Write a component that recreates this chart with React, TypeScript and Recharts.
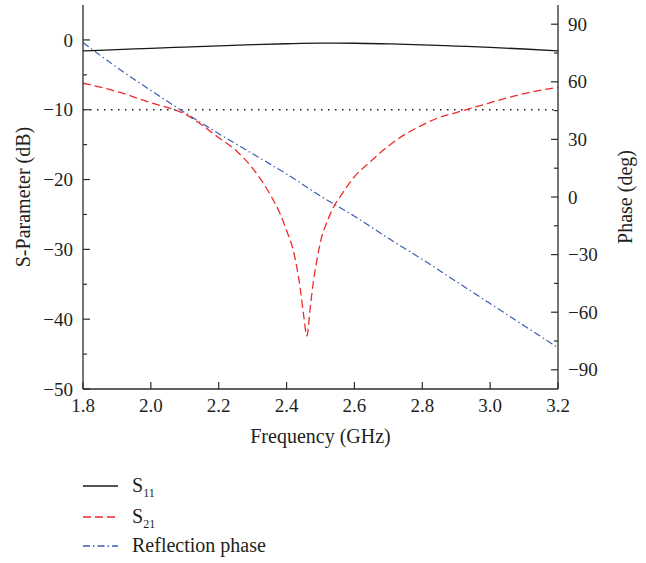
import React from "react";
import { LineChart, Line, XAxis, YAxis, ReferenceLine, Label } from "recharts";

const FONT = "'Liberation Serif', 'Times New Roman', serif";
const AXIS = "#2b2b2b";
const TEXT = "#231f20";

// S11 and reflection phase sampled every 0.1 GHz
const coarseFreq = [1.8, 1.9, 2.0, 2.1, 2.2, 2.3, 2.4, 2.5, 2.6, 2.7, 2.8, 2.9, 3.0, 3.1, 3.2];
const s11Db = [-1.57, -1.4, -1.2, -1.02, -0.85, -0.68, -0.55, -0.47, -0.48, -0.57, -0.7, -0.88, -1.07, -1.3, -1.57];
const phaseDeg = [80.5, 67.5, 55.5, 44, 33, 22.5, 12, 0.5, -10, -21.5, -32.5, -44, -55.5, -67, -78.5];

// S21 needs denser points around the notch
const s21Freq = [
  1.8, 1.9, 2.0, 2.1, 2.2, 2.25, 2.3, 2.35, 2.38, 2.4, 2.42, 2.44, 2.45, 2.46, 2.47, 2.48, 2.49, 2.5,
  2.52, 2.54, 2.56, 2.6, 2.65, 2.7, 2.75, 2.8, 2.85, 2.9, 2.95, 3.0, 3.05, 3.1, 3.15, 3.2,
];
const s21Db = [
  -6.2, -7.4, -9.0, -10.6, -14.0, -15.8, -18.4, -22.0, -24.8, -27.3, -30.2, -35.5, -39.3, -42.4, -38.2, -34.3, -31.4, -28.9,
  -26.0, -23.8, -22.3, -19.6, -17.3, -15.2, -13.5, -12.2, -11.1, -10.4, -9.7, -9.0, -8.3, -7.7, -7.2, -6.8,
];

const freqTicks = [1.8, 2.0, 2.2, 2.4, 2.6, 2.8, 3.0, 3.2];
const dbTicks = [-50, -45, -40, -35, -30, -25, -20, -15, -10, -5, 0];
const phaseTicks = [-90, -75, -60, -45, -30, -15, 0, 15, 30, 45, 60, 75, 90];
const thresholdDb = -10;

const legendItems = [
  { name: "S", sub: "11" },
  { name: "S", sub: "21" },
  { name: "Reflection phase", sub: "" },
];

const s11Data = coarseFreq.map((f, i) => ({ f, s11: s11Db[i], phase: phaseDeg[i] }));
const s21Data = s21Freq.map((f, i) => ({ f, s21: s21Db[i] }));

const fmt = (v: number) => (v < 0 ? "\u2212" + Math.abs(v) : String(v));

const TICK_GAP = 10;

function LeftTick(props: any) {
  const { x, y, payload } = props;
  const v = payload.value;
  const major = v % 10 === 0;
  const ax = x + TICK_GAP;
  return (
    <g>
      <line x1={ax} x2={ax + (major ? 7 : 4)} y1={y} y2={y} stroke={AXIS} strokeWidth={1.2} />
      {major && (
        <text x={x} y={y} dy="0.35em" textAnchor="end" fontFamily={FONT} fontSize={19} fill={TEXT}>
          {fmt(v)}
        </text>
      )}
    </g>
  );
}

function RightTick(props: any) {
  const { x, y, payload } = props;
  const v = payload.value;
  const major = v % 30 === 0;
  const ax = x - TICK_GAP;
  return (
    <g>
      <line x1={ax} x2={ax - (major ? 7 : 4)} y1={y} y2={y} stroke={AXIS} strokeWidth={1.2} />
      {major && (
        <text x={x} y={y} dy="0.35em" textAnchor="start" fontFamily={FONT} fontSize={19} fill={TEXT}>
          {fmt(v)}
        </text>
      )}
    </g>
  );
}

function BottomTick(props: any) {
  const { x, y, payload } = props;
  const ay = y - TICK_GAP;
  return (
    <g>
      <line x1={x} x2={x} y1={ay} y2={ay - 7} stroke={AXIS} strokeWidth={1.2} />
      <text x={x} y={y} dy="0.71em" textAnchor="middle" fontFamily={FONT} fontSize={19} fill={TEXT}>
        {payload.value.toFixed(1)}
      </text>
    </g>
  );
}

function Legend() {
  const rows = [492, 523, 552];
  const styles = [
    { stroke: "#1a1a1a", dash: undefined },
    { stroke: "#ee2a2a", dash: "8 4" },
    { stroke: "#3b5bb5", dash: "7 3 1.5 3" },
  ];
  return (
    <svg width={646} height={563} style={{ position: "absolute", left: 0, top: 0, pointerEvents: "none" }}>
      {legendItems.map((item, i) => (
        <g key={i}>
          <line
            x1={83}
            x2={118}
            y1={rows[i] - 6}
            y2={rows[i] - 6}
            stroke={styles[i].stroke}
            strokeDasharray={styles[i].dash}
            strokeWidth={1.3}
          />
          <text x={132} y={rows[i]} fontFamily={FONT} fontSize={20} fill={TEXT}>
            {item.name}
            {item.sub && (
              <tspan fontSize={12} dy={5}>
                {item.sub}
              </tspan>
            )}
          </text>
        </g>
      ))}
    </svg>
  );
}

export default function App() {
  return (
    <div style={{ position: "absolute", left: 0, top: 0, width: 646, height: 563, background: "#fff" }}>
      <LineChart width={646} height={563} margin={{ top: 5, right: 0, bottom: 114, left: 0 }}>
        <XAxis
          xAxisId="x"
          dataKey="f"
          type="number"
          domain={[1.8, 3.2]}
          ticks={freqTicks}
          interval={0}
          allowDataOverflow
          height={60}
          tickSize={0}
          tickMargin={TICK_GAP}
          tickLine={false}
          tick={<BottomTick />}
          axisLine={{ stroke: AXIS, strokeWidth: 1.3 }}
        >
          <Label
            content={({ viewBox }: any) => (
              <text
                x={viewBox.x + viewBox.width / 2}
                y={443}
                textAnchor="middle"
                fontFamily={FONT}
                fontSize={20}
                fill={TEXT}
              >
                Frequency (GHz)
              </text>
            )}
          />
        </XAxis>
        <XAxis
          xAxisId="top"
          orientation="top"
          type="number"
          domain={[1.8, 3.2]}
          height={0}
          tick={false}
          tickLine={false}
          axisLine={{ stroke: AXIS, strokeWidth: 1.3 }}
        />
        <YAxis
          yAxisId="db"
          orientation="left"
          type="number"
          domain={[-50, 5]}
          ticks={dbTicks}
          interval={0}
          allowDataOverflow
          width={83}
          tickSize={0}
          tickMargin={TICK_GAP}
          tickLine={false}
          tick={<LeftTick />}
          axisLine={{ stroke: AXIS, strokeWidth: 1.3 }}
        >
          <Label
            content={({ viewBox }: any) => {
              const cy = viewBox.y + viewBox.height / 2;
              return (
                <text
                  x={23}
                  y={cy}
                  dy="0.35em"
                  transform={`rotate(-90 23 ${cy})`}
                  textAnchor="middle"
                  fontFamily={FONT}
                  fontSize={20}
                  fill={TEXT}
                >
                  S-Parameter (dB)
                </text>
              );
            }}
          />
        </YAxis>
        <YAxis
          yAxisId="phase"
          orientation="right"
          type="number"
          domain={[-100, 100]}
          ticks={phaseTicks}
          interval={0}
          allowDataOverflow
          width={88}
          tickSize={0}
          tickMargin={TICK_GAP}
          tickLine={false}
          tick={<RightTick />}
          axisLine={{ stroke: AXIS, strokeWidth: 1.3 }}
        >
          <Label
            content={({ viewBox }: any) => {
              const cy = viewBox.y + viewBox.height / 2;
              return (
                <text
                  x={625}
                  y={cy}
                  dy="0.35em"
                  transform={`rotate(-90 625 ${cy})`}
                  textAnchor="middle"
                  fontFamily={FONT}
                  fontSize={20}
                  fill={TEXT}
                >
                  Phase (deg)
                </text>
              );
            }}
          />
        </YAxis>
        <ReferenceLine
          xAxisId="x"
          yAxisId="db"
          y={thresholdDb}
          stroke="#222"
          strokeWidth={1.3}
          strokeDasharray="1.5 5.5"
        />
        <Line
          xAxisId="x"
          yAxisId="db"
          data={s11Data}
          dataKey="s11"
          type="monotone"
          stroke="#1a1a1a"
          strokeWidth={1.3}
          dot={false}
          isAnimationActive={false}
        />
        <Line
          xAxisId="x"
          yAxisId="db"
          data={s21Data}
          dataKey="s21"
          type="monotone"
          stroke="#ee2a2a"
          strokeWidth={1.3}
          strokeDasharray="8 4"
          dot={false}
          isAnimationActive={false}
        />
        <Line
          xAxisId="x"
          yAxisId="phase"
          data={s11Data}
          dataKey="phase"
          type="monotone"
          stroke="#3b5bb5"
          strokeWidth={1.2}
          strokeDasharray="7 3 1.5 3"
          dot={false}
          isAnimationActive={false}
        />
      </LineChart>
      <Legend />
    </div>
  );
}
